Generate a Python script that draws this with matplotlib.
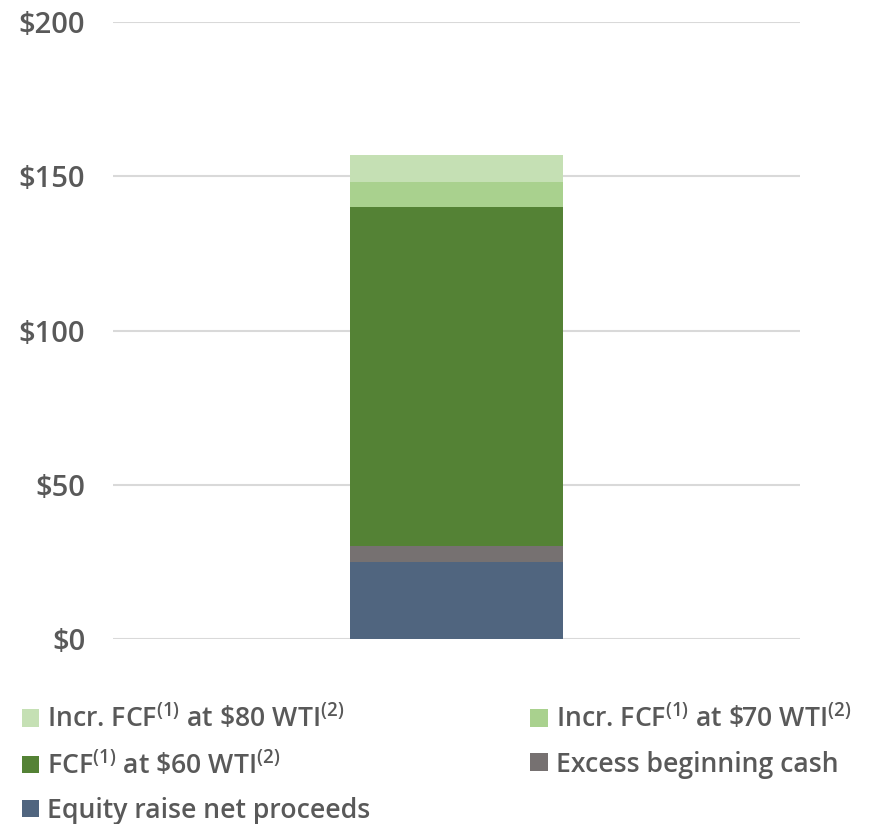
import matplotlib
matplotlib.use("Agg")
import matplotlib.pyplot as plt
from matplotlib.patches import Patch

plt.rcParams['font.family'] = ['Open Sans', 'DejaVu Sans']
plt.rcParams['font.weight'] = 'semibold'
plt.rcParams['mathtext.fontset'] = 'custom'
plt.rcParams['mathtext.rm'] = 'Open Sans'
plt.rcParams['mathtext.it'] = 'Open Sans'
plt.rcParams['mathtext.bf'] = 'Open Sans'

categories = [""]
series_names = [
    "Equity raise net proceeds",
    "Excess beginning cash",
    "FCF$^{(1)}$ at \\$60 WTI$^{(2)}$",
    "Incr. FCF$^{(1)}$ at \\$70 WTI$^{(2)}$",
    "Incr. FCF$^{(1)}$ at \\$80 WTI$^{(2)}$",
]
equity = [25]
excess_cash = [5]
fcf_60 = [110]
incr_70 = [8]
incr_80 = [9]
series_values = [equity, excess_cash, fcf_60, incr_70, incr_80]
colors = ["#50657F", "#767171", "#548235", "#A9D18E", "#C5E0B4"]
yticks = [0, 50, 100, 150, 200]
ytick_labels = ["$0", "$50", "$100", "$150", "$200"]

fig = plt.figure(figsize=(8.71, 8.24), dpi=100)
ax = fig.add_axes([0.1297, 0.2245, 0.7888, 0.7488])

bottom = [0] * len(categories)
for name, vals, c in zip(series_names, series_values, colors):
    ax.bar(range(len(categories)), vals, bottom=bottom, width=0.31, color=c, label=name, zorder=3)
    bottom = [a + v for a, v in zip(bottom, vals)]

ax.set_xlim(-0.5, 0.5)
ax.set_ylim(0, 200)
ax.set_yticks(yticks)
ax.set_yticklabels(ytick_labels, fontsize=21, color="#595959", fontweight='semibold')
ax.set_xticks([])
ax.tick_params(axis='y', length=0, pad=20)
for s in ax.spines.values():
    s.set_visible(False)
ax.yaxis.grid(True, color="#D9D9D9", linewidth=1.5, zorder=0)
ax.set_axisbelow(True)

order = [4, 2, 0, 3, 1]
handles = [Patch(facecolor=colors[i], edgecolor='none') for i in order]
labels = [series_names[i] for i in order]
leg = fig.legend(handles, labels, ncol=2, loc='upper left', bbox_to_anchor=(0.025, 0.145),
                 frameon=False, prop={'size': 19.2, 'weight': 'semibold'},
                 handlelength=0.65, handleheight=0.65,
                 handletextpad=0.3, columnspacing=6.0, labelspacing=0.6, borderpad=0, borderaxespad=0)
for t in leg.get_texts():
    t.set_color("#595959")

fig.savefig("out.png", dpi=100)
